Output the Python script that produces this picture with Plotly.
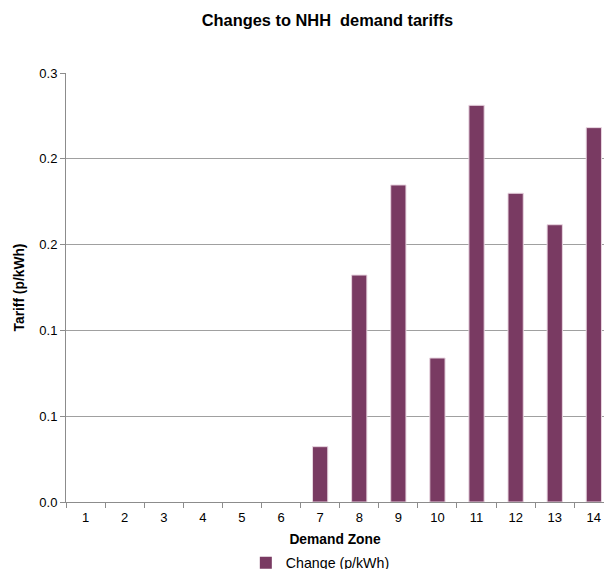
import plotly.graph_objects as go

zones = ["1", "2", "3", "4", "5", "6", "7", "8", "9", "10", "11", "12", "13", "14"]
change = [0, 0, 0, 0, 0, 0, 0.0387, 0.1587, 0.2217, 0.1007, 0.2774, 0.2159, 0.1939, 0.2618]
y_tickvals = [0, 0.06, 0.12, 0.18, 0.24, 0.3]
y_ticktext = ["0.0", "0.1", "0.1", "0.2", "0.2", "0.3"]

fig = go.Figure()
fig.add_trace(go.Bar(
    x=zones, y=change, name="Change (p/kWh)",
    marker=dict(color="#793A62",
                line=dict(color="#E8D5E0", width=[0 if v == 0 else 1 for v in change])),
    width=0.39, showlegend=True,
))

font_family = "Liberation Sans, Arial, sans-serif"
fig.update_layout(
    width=604, height=569,
    margin=dict(l=66, r=0, t=73, b=67),
    paper_bgcolor="white", plot_bgcolor="white",
    font=dict(family=font_family, size=13, color="#000000"),
    title=dict(text="<b>Changes to NHH  demand tariffs</b>", x=0.542, xanchor="center",
               xref="container", y=1 - 20 / 569, yanchor="middle", yref="container",
               font=dict(size=16.4)),
    showlegend=True,
    legend=dict(orientation="h", x=0.407, xanchor="left", xref="container",
                y=6 / 569, yanchor="middle", yref="container",
                font=dict(size=14.2), bgcolor="rgba(0,0,0,0)"),
)
fig.update_xaxes(
    type="category", range=[-0.5, 13.26], automargin=False,
    showline=True, linecolor="#8C8C8C", linewidth=1,
    ticks="outside", tickson="boundaries", ticklen=5, tickcolor="#8C8C8C",
    ticklabelstandoff=3,
    showgrid=False,
    title=dict(text="<b>Demand Zone</b>", standoff=10, font=dict(size=13.8)),
    tickfont=dict(size=13),
)
fig.update_yaxes(
    range=[0, 0.3], tickvals=y_tickvals, ticktext=y_ticktext, automargin=False,
    showline=True, linecolor="#8C8C8C", linewidth=1,
    ticks="outside", ticklen=5, tickcolor="#8C8C8C",
    showgrid=True, gridcolor="#A0A0A0", gridwidth=1,
    zeroline=False,
    title=dict(text="<b>Tariff (p/kWh)</b>", standoff=11, font=dict(size=13.8)),
    tickfont=dict(size=13),
)
fig.write_html(
    "out.html",
    config={"displayModeBar": False},
    post_script="document.body.style.margin='0';document.body.style.overflow='hidden';",
)
